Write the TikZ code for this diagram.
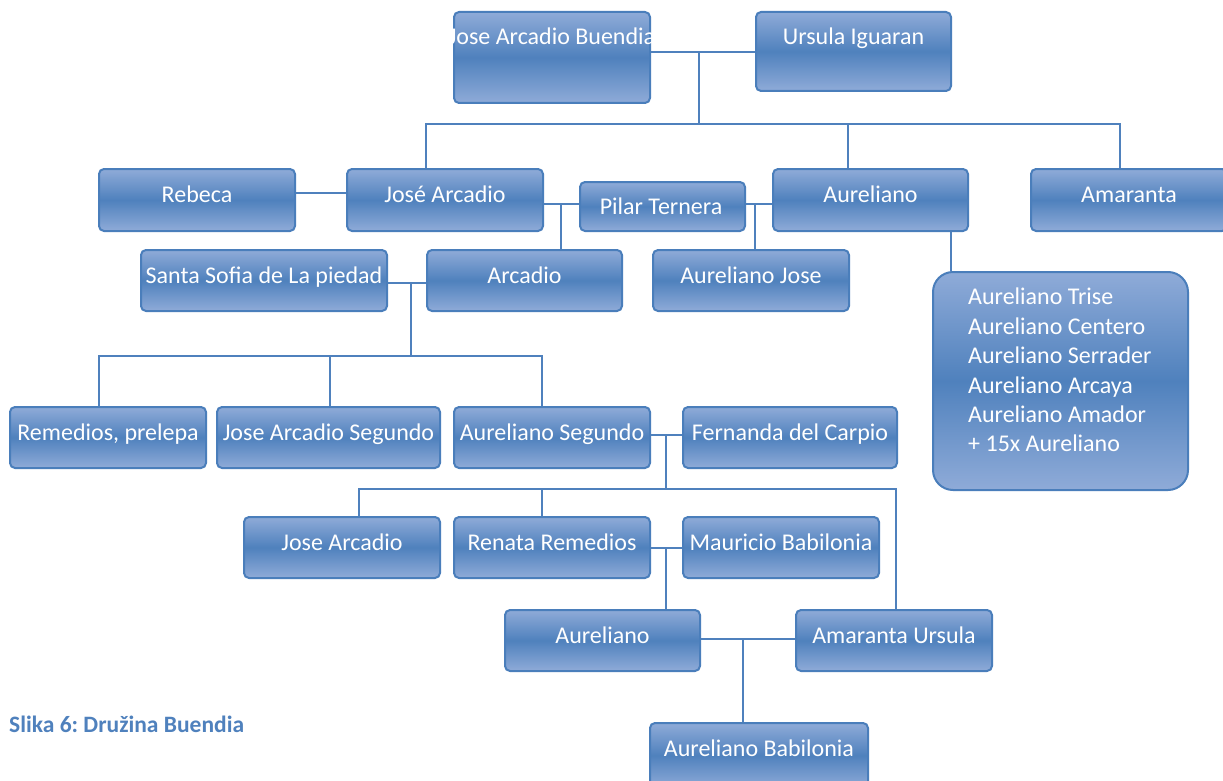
\documentclass[tikz,border=0pt]{standalone}
\usepackage{fontspec}
\setmainfont{Carlito}
\frenchspacing
\definecolor{light}{RGB}{143,171,216}
\definecolor{dark}{RGB}{79,129,189}
\definecolor{bordercol}{RGB}{74,126,187}
\definecolor{linecol}{RGB}{79,129,189}
\tikzset{
  box/.style={draw=bordercol, line width=2, rounded corners=5,
    top color=light, bottom color=light, middle color=dark,
    text=white, inner xsep=0, inner ysep=0, text height=33, text depth=29,
    minimum width=196, anchor=north west, font=\fontsize{24}{29.4}\selectfont},
  link/.style={draw=linecol, line width=2.4},
}
\begin{document}
\begin{tikzpicture}[x=1pt,y=-1pt]
\fill[white] (0,0) rectangle (1223,781);
\useasboundingbox (0,0) rectangle (1223,781);

% boxes
\node[box, text depth=58] (jab) at (453,11) {\makebox[0pt]{Jose Arcadio Buendia}};
\node[box, minimum width=195, text depth=46] (urs) at (755,11) {Ursula Iguaran};
\node[box] (rebeca) at (98,168) {Rebeca};
\node[box] (josea) at (346,168) {José Arcadio};
\node[box, minimum width=165, text height=49, text depth=0] (pilar) at (579,181) {};
\node[box, minimum width=195] (aur) at (772,168) {Aureliano};
\node[box] (amar) at (1030,168) {Amaranta};
\node[box, minimum width=246, text depth=28] (santa) at (140,249) {Santa Sofia de La piedad};
\node[box, minimum width=195, text depth=28] (arcadio) at (426,249) {Arcadio};
\node[box, text depth=28] (aurjose) at (652,249) {Aureliano Jose};
\node[box, rounded corners=20, minimum width=255, text height=218, text depth=0] (list) at (932,271) {};
\node[box, text depth=28] (rem) at (9,406) {Remedios, prelepa};
\node[box, minimum width=223, text depth=28] (jas) at (216,406) {Jose Arcadio Segundo};
\node[box, text depth=28] (aseg) at (453,406) {Aureliano Segundo};
\node[box, minimum width=214, text depth=28] (fern) at (682,406) {Fernanda del Carpio};
\node[box, text depth=28] (ja2) at (243,516) {Jose Arcadio};
\node[box, text depth=28] (renata) at (453,516) {Renata Remedios};
\node[box, text depth=28] (maur) at (682,516) {Mauricio Babilonia};
\node[box, minimum width=195, text depth=28] (aur2) at (504,609) {Aureliano};
\node[box, text depth=28] (amur) at (795,609) {Amaranta Ursula};
\node[box, minimum width=218, text depth=32] (aurbab) at (649,722) {Aureliano Babilonia};

% texts placed separately
\node[text=white, anchor=base, inner sep=0, font=\fontsize{24}{29.4}\selectfont] (pilartext) at (661,214) {Pilar Ternera};
\node[text=white, anchor=north west, align=left, inner sep=0, font=\fontsize{24}{29.4}\selectfont] (listtext) at (968,288)
  {Aureliano Trise\\Aureliano Centero\\Aureliano Serrader\\Aureliano Arcaya\\Aureliano Amador\\+ 15x Aureliano};

% caption
\node[anchor=west, inner sep=0, text=dark, font=\bfseries\fontsize{23.5}{28}\selectfont] (cap) at (9,724) {Slika 6: Družina Buendia};

% connectors
\coordinate (c1) at (699,52);
\coordinate (c2) at (699,124);
\coordinate (bL) at (426,124);
\coordinate (bA) at (848,124);
\coordinate (bR) at (1120,124);
\draw[link] (jab.east |- c1) -- (urs.west |- c1);
\draw[link] (c1) -- (c2);
\draw[link] (josea.north -| bL) -- (bL) -- (bR) -- (bR |- amar.north);
\draw[link] (bA) -- (bA |- aur.north);

\coordinate (r1) at (0,193);
\draw[link] (rebeca.east |- r1) -- (josea.west |- r1);
\coordinate (p1) at (561,204);
\draw[link] (josea.east |- p1) -- (pilar.west |- p1);
\draw[link] (p1) -- (p1 |- arcadio.north);
\coordinate (p2) at (755,204);
\draw[link] (pilar.east |- p2) -- (aur.west |- p2);
\draw[link] (p2) -- (p2 |- aurjose.north);
\coordinate (p3) at (951,0);
\draw[link] (aur.south -| p3) -- (list.north -| p3);

\coordinate (s1) at (411,283);
\coordinate (s2) at (411,356);
\coordinate (sL) at (99,356);
\coordinate (sM) at (330,356);
\coordinate (sR) at (542,356);
\draw[link] (santa.east |- s1) -- (arcadio.west |- s1);
\draw[link] (s1) -- (s2);
\draw[link] (rem.north -| sL) -- (sL) -- (sR) -- (sR |- aseg.north);
\draw[link] (sM) -- (sM |- jas.north);

\coordinate (f1) at (666,435);
\coordinate (f2) at (666,489);
\coordinate (fL) at (359,489);
\coordinate (fM) at (542,489);
\coordinate (fR) at (896,489);
\draw[link] (aseg.east |- f1) -- (fern.west |- f1);
\draw[link] (f1) -- (f2);
\draw[link] (ja2.north -| fL) -- (fL) -- (fR) -- (fR |- amur.north);
\draw[link] (fM) -- (fM |- renata.north);

\coordinate (m1) at (666,548);
\draw[link] (renata.east |- m1) -- (maur.west |- m1);
\draw[link] (m1) -- (m1 |- aur2.north);

\coordinate (a1) at (743,639);
\draw[link] (aur2.east |- a1) -- (amur.west |- a1);
\draw[link] (a1) -- (a1 |- aurbab.north);
\end{tikzpicture}
\end{document}
